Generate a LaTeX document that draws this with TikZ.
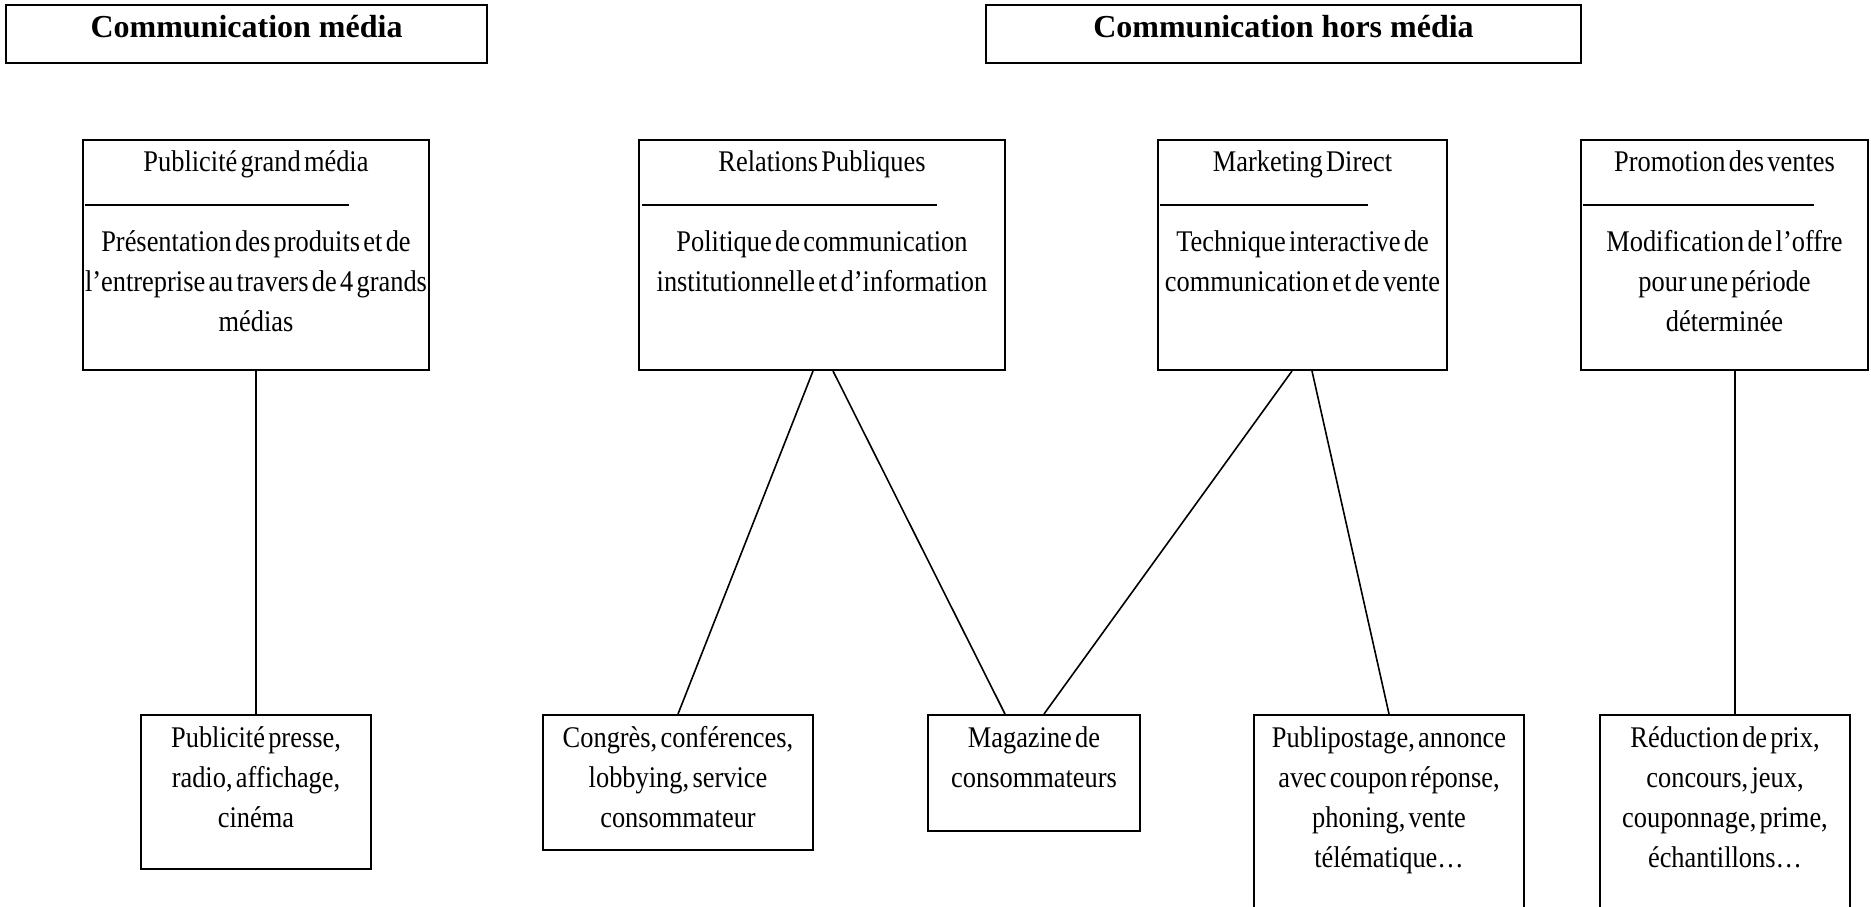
\documentclass[tikz,border=0pt]{standalone}
\usepackage{fontspec}
\setmainfont{Liberation Serif}
\newfontfamily\bodyfont{Liberation Serif}[FakeStretch=0.88,WordSpace=0.5]
\usetikzlibrary{fit}
\newcommand{\fst}{\rule{0pt}{12pt}}
\begin{document}
\begin{tikzpicture}[x=0.5pt,y=-0.5pt,
  box/.style={draw, line width=1pt, inner sep=0pt},
  txt/.style={inner sep=0pt, align=center, anchor=north, font=\bodyfont\fontsize{15}{20}\selectfont},
  ttl/.style={inner sep=0pt, anchor=base, font=\bfseries\fontsize{16}{19}\selectfont},
  conn/.style={line width=0.8pt},
  sepline/.style={line width=0.75pt}]
\fill[white] (0,0) rectangle (1871,906);
\clip (0,0) rectangle (1871,906);

% titles
\node[box, fit={(6,5) (487,63)}] (T1) {};
\node[ttl] (T1t) at (246.5,37) {Communication média};
\node[box, fit={(986,5) (1581,63)}] (T2) {};
\node[ttl] (T2t) at (1283.5,37) {Communication hors média};

% top boxes
\node[box, fit={(83,140) (429,370)}] (A) {};
\node[txt] (At) at (256,147) {\fst Publicité grand média};
\draw[sepline] (85,205) -- (349,205);
\node[txt] (Ab) at (256,227) {\fst Présentation des produits et de\\l’entreprise au travers de 4 grands\\médias};

\node[box, fit={(639,140) (1005,370)}] (B) {};
\node[txt] (Bt) at (822,147) {\fst Relations Publiques};
\draw[sepline] (642,205) -- (937,205);
\node[txt] (Bb) at (822,227) {\fst Politique de communication\\institutionnelle et d’information};

\node[box, fit={(1158,140) (1447,370)}] (C) {};
\node[txt] (Ct) at (1302.5,147) {\fst Marketing Direct};
\draw[sepline] (1160,205) -- (1368,205);
\node[txt] (Cb) at (1302.5,227) {\fst Technique interactive de\\communication et de vente};

\node[box, fit={(1581,140) (1868,370)}] (D) {};
\node[txt] (Dt) at (1724.5,147) {\fst Promotion des ventes};
\draw[sepline] (1583,205) -- (1814,205);
\node[txt] (Db) at (1724.5,227) {\fst Modification de l’offre\\pour une période\\déterminée};

% bottom boxes
\node[box, fit={(141,715) (371,869)}] (A2) {};
\node[txt] (A2t) at (256,723) {\fst Publicité presse,\\radio, affichage,\\cinéma};

\node[box, fit={(543,715) (813,850)}] (B2) {};
\node[txt] (B2t) at (678,723) {\fst Congrès, conférences,\\lobbying, service\\consommateur};

\node[box, fit={(928,715) (1140,831)}] (M) {};
\node[txt] (Mt) at (1034,723) {\fst Magazine de\\consommateurs};

\node[box, fit={(1254,715) (1524,930)}] (C2) {};
\node[txt] (C2t) at (1389,723) {\fst Publipostage, annonce\\avec coupon réponse,\\phoning, vente\\télématique…};

\node[box, fit={(1600,715) (1850,930)}] (D2) {};
\node[txt] (D2t) at (1725,723) {\fst Réduction de prix,\\concours, jeux,\\couponnage, prime,\\échantillons…};

% connectors
\draw[conn] (A.south) -- (A2.north);
\draw[conn] ([xshift=-4.5pt]B.south) -- (B2.north);
\draw[conn] ([xshift=5.5pt]B.south) -- ([xshift=-14.5pt]M.north);
\draw[conn] ([xshift=-5.25pt]C.south) -- ([xshift=5pt]M.north);
\draw[conn] ([xshift=4.75pt]C.south) -- (C2.north);
\draw[conn] ([xshift=5.25pt]D.south) -- ([xshift=5pt]D2.north);
\end{tikzpicture}
\end{document}
